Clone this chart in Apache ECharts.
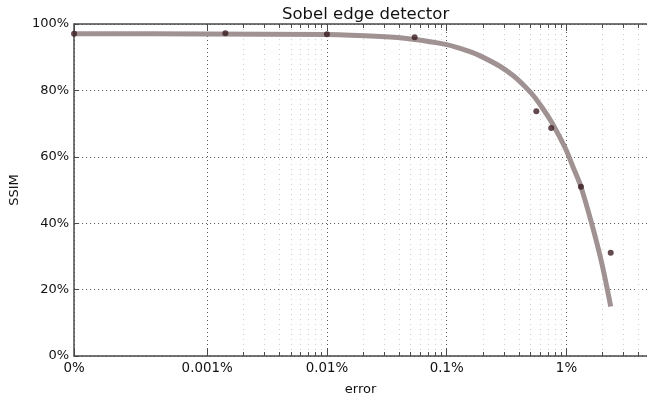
<!DOCTYPE html>
<html>
<head>
    <meta charset="utf-8">
    <title>Sobel edge detector</title>
    <script src="https://cdn.jsdelivr.net/npm/echarts@6/dist/echarts.min.js"></script>
    <style>
        body { margin: 0; background: #fff; }
    </style>
</head>
<body>
    <div id="main" style="width: 647px;height:401px;"></div>

    <script>
        // measured points (error in %, SSIM in %)
        var pointError = [0, 0.00142, 0.01, 0.054, 0.56, 0.746, 1.32, 2.34];
        var pointSsim = [97.1, 97.2, 96.9, 96.0, 73.7, 68.7, 51.0, 31.1];

        // fitted curve
        var fitError = [0, 0.001, 0.01, 0.028, 0.05, 0.1, 0.15, 0.19, 0.28, 0.36, 0.45, 0.53, 0.63, 0.75,
                        0.87, 1.0, 1.15, 1.32, 1.62, 1.97, 2.34];
        var fitSsim = [97.1, 97.0, 96.8, 96.2, 95.5, 93.8, 91.9, 90.4, 87.2, 84.4, 81.2, 78.4, 74.7, 70.5,
                       66.2, 61.8, 56.4, 51.0, 40.0, 28.0, 14.9];

        // x tick labels (error in %)
        var majorTicks = [0, 0.001, 0.01, 0.1, 1];
        var majorLabels = ['0%', '0.001%', '0.01%', '0.1%', '1%'];
        var yTicks = [0, 20, 40, 60, 80, 100];

        // symlog axis: linear below linthresh, log above
        var linthresh = 0.001;
        var linWidth = 1 / 0.9;   // linear part is as wide as 1.11 decades
        function symlog(v) {
            if (v <= linthresh) return v / linthresh * linWidth;
            return linWidth + Math.log10(v / linthresh);
        }

        var minorTicks = [];
        for (var d = -3; d <= 0; d++) {
            for (var k = 2; k <= 9; k++) {
                var v = k * Math.pow(10, d);
                if (v < 4.5) minorTicks.push(symlog(v));
            }
        }
        var majorPos = majorTicks.map(symlog);

        var plotLeft = 73, plotRight = 647, pxPerDecade = 120;
        var xMax = (plotRight - plotLeft) / pxPerDecade;

        var font = 'DejaVu Sans';
        var spine = { show: true, lineStyle: { color: '#4a4a4a', width: 1.5 } };

        function pairs(xs, ys) {
            return xs.map(function (x, i) { return [symlog(x), ys[i]]; });
        }

        var myChart = echarts.init(document.getElementById('main'));

        var option = {
            animation: false,
            title: {
                text: 'Sobel edge detector',
                left: 277,
                top: 1,
                textStyle: { fontFamily: font, fontSize: 16.5, fontWeight: 'normal', color: '#111' }
            },
            grid: { left: plotLeft, right: 0, top: 24, bottom: 44, containLabel: false },
            xAxis: [{
                // bottom, major ticks + labels + grid
                type: 'value', min: 0, max: xMax, position: 'bottom',
                name: 'error', nameLocation: 'middle', nameGap: 27,
                nameTextStyle: { fontFamily: font, fontSize: 13, color: '#111' },
                axisLine: spine,
                axisTick: { show: true, inside: true, length: 7, customValues: majorPos,
                    lineStyle: { color: '#4a4a4a' } },
                axisLabel: { customValues: majorPos, margin: 6, fontFamily: font, fontSize: 13.4, color: '#111',
                    formatter: function (val) {
                        var i = majorPos.findIndex(function (p) { return Math.abs(p - val) < 1e-6; });
                        return i >= 0 ? majorLabels[i] : '';
                    } },
                splitLine: { show: true, lineStyle: { type: [1, 3], color: '#555', width: 1 } }
            }, {
                // bottom, minor ticks + light grid
                type: 'value', min: 0, max: xMax, position: 'bottom',
                axisLine: { show: false },
                axisTick: { show: true, inside: true, length: 4, customValues: minorTicks,
                    lineStyle: { color: '#4a4a4a' } },
                axisLabel: { show: false, customValues: minorTicks },
                splitLine: { show: true, lineStyle: { type: [1, 4], color: '#cfcfcf', width: 1 } }
            }, {
                // top spine, major ticks
                type: 'value', min: 0, max: xMax, position: 'top',
                axisLine: spine,
                axisTick: { show: true, inside: true, length: 7, customValues: majorPos,
                    lineStyle: { color: '#4a4a4a' } },
                axisLabel: { show: false, customValues: majorPos },
                splitLine: { show: false }
            }, {
                // top, minor ticks
                type: 'value', min: 0, max: xMax, position: 'top',
                axisLine: { show: false },
                axisTick: { show: true, inside: true, length: 4, customValues: minorTicks,
                    lineStyle: { color: '#4a4a4a' } },
                axisLabel: { show: false, customValues: minorTicks },
                splitLine: { show: false }
            }],
            yAxis: {
                type: 'value', min: yTicks[0], max: yTicks[yTicks.length - 1], interval: 20,
                name: 'SSIM', nameLocation: 'middle', nameGap: 50,
                nameTextStyle: { fontFamily: font, fontSize: 13, color: '#111' },
                axisLine: spine,
                axisTick: { show: true, inside: true, length: 5, lineStyle: { color: '#4a4a4a' } },
                axisLabel: { formatter: '{value}%', margin: 5, fontFamily: font, fontSize: 13, color: '#111' },
                splitLine: { show: true, lineStyle: { type: [1, 3], color: '#555', width: 1 } }
            },
            series: [{
                name: 'fit',
                type: 'line',
                xAxisIndex: 0,
                data: pairs(fitError, fitSsim),
                smooth: 0.3,
                showSymbol: false,
                symbol: 'none',
                lineStyle: { color: '#a09292', width: 5 },
                z: 2
            }, {
                name: 'measured',
                type: 'scatter',
                xAxisIndex: 0,
                data: pairs(pointError, pointSsim),
                symbolSize: 6,
                itemStyle: { color: '#3b1d21' },
                z: 3
            }]
        };

        myChart.setOption(option);
    </script>
</body>
</html>
